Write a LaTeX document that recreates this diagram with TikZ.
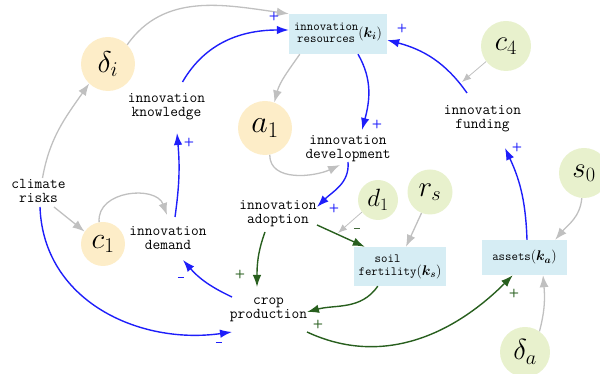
\RequirePackage{fix-cm}
\documentclass[tikz,border=0pt]{standalone}
\usepackage{amsmath}
\usetikzlibrary{arrows.meta,calc}
\definecolor{cblue}{RGB}{30,30,250}
\definecolor{cgreen}{RGB}{40,95,30}
\definecolor{cgray}{RGB}{192,192,192}
\definecolor{fillor}{RGB}{253,237,200}
\definecolor{fillgr}{RGB}{232,241,205}
\definecolor{fillbox}{RGB}{214,237,244}
\newcommand{\negsign}{\rule[0.28em]{6.5pt}{1.3pt}}
\begin{document}
\begin{tikzpicture}[x=1pt,y=1pt,
  lbl/.style={font=\fontsize{15}{14}\selectfont\ttfamily, align=center, inner sep=0pt, text=black},
  orc/.style={circle, fill=fillor, inner sep=0pt, minimum size=#1},
  grc/.style={circle, fill=fillgr, inner sep=0pt, minimum size=#1},
  stockbox/.style={rectangle, fill=fillbox, inner sep=0pt, text=black, font=\fontsize{12.5}{11.5}\selectfont\ttfamily},
  plbl/.style={font=\fontsize{12}{12}\selectfont\sffamily\bfseries, inner sep=0pt},
  blueedge/.style={draw=cblue, line width=1.4pt, -{Latex[length=12pt,width=8.5pt]}},
  greenedge/.style={draw=cgreen, line width=1.4pt, -{Latex[length=12pt,width=8.5pt]}},
  grayedge/.style={draw=cgray, line width=1.3pt, -{Latex[length=12pt,width=9pt]}},
  thingray/.style={draw=cgray, line width=0.8pt, -{Latex[length=9pt,width=7pt]}},
  bigmath/.style={font=\fontsize{#1}{#1}\selectfont}
]
\useasboundingbox (0,0) rectangle (600,374);

% stocks
\node[stockbox, minimum width=98, minimum height=40] (res) at (338,340)
  {\begin{tabular}{@{}c@{}}innovation\\resources\end{tabular}{\fontsize{14}{14}\selectfont$(\boldsymbol{k_i})$}};
\node[stockbox, minimum width=92, minimum height=39] (soil) at (400,107.5)
  {\begin{tabular}[b]{@{}c@{}}soil\\[1.5pt]fertility\end{tabular}{\fontsize{14}{14}\selectfont$(\boldsymbol{k_s})$}};
\node[stockbox, minimum width=85, minimum height=35] (assets) at (524.5,116.5)
  {assets{\fontsize{14}{14}\selectfont$(\boldsymbol{k_a})$}};

% parameters
\node[orc=54, bigmath=30] (di) at (108,310) {$\delta_i$};
\node[orc=54, bigmath=32] (a1) at (265,246) {$a_1$};
\node[orc=44, bigmath=30] (c1) at (103,130) {$c_1$};
\node[grc=50, bigmath=29] (c4) at (506,328) {$c_4$};
\node[grc=50, bigmath=29] (s0) at (584,201) {$s_0$};
\node[grc=40, bigmath=25] (d1) at (378,174) {$d_1$};
\node[grc=45, bigmath=29] (rs) at (430,182) {$r_s$};
\node[grc=50, bigmath=29] (da) at (525,22) {$\delta_a$};

% variables
\node[lbl] (know) at (166.5,267) {innovation\\knowledge};
\node[lbl] (fund) at (482.5,255) {innovation\\funding};
\node[lbl] (dev) at (348,225.5) {innovation\\development};
\node[lbl] (clim) at (38.5,183) {climate\\risks};
\node[lbl] (dem) at (168,135.5) {innovation\\demand};
\node[lbl] (adopt) at (278,160) {innovation\\adoption};
\node[lbl] (crop) at (268.5,64) {crop\\production};
\coordinate (dtip) at (338,141);

% gray links
\draw[grayedge] ($(clim)+(4,13)$) to[out=80,in=235] (di.226);
\draw[grayedge] (di.45) to[out=55,in=172] (res.north west);
\draw[grayedge] ($(res.south west)+(11,0)$) to[out=235,in=75] (a1.70);
\draw[grayedge] (a1.-80) to[out=270,in=205] ($(dev)+(-8,-16.5)$);
\draw[thingray] (c4.218) -- ($(fund)+(-20.5,37)$);
\draw[grayedge] (s0.265) to[out=-95,in=50] ($(assets.north east)+(-12,0)$);
\draw[grayedge] (da.55) to[out=75,in=275] ($(assets.south)+(18.5,0)$);
\draw[grayedge] ($(clim)+(15.5,-16)$) -- (c1.146);
\draw[grayedge] (c1.100) to[out=95,in=110,looseness=1.2] ($(dem)+(-1,23.5)$);
\draw[thingray] (d1.217) -- (dtip);
\draw[grayedge] (rs.248) -- ($(soil.north)+(6,0)$);

% blue links
\draw[blueedge] ($(know)+(16,25)$) to[out=60,in=180] ($(res.west)+(0,4)$);
\draw[blueedge] ($(dem)+(7,21.5)$) to[out=82,in=275] ($(know)+(10.5,-26)$);
\draw[blueedge] ($(res.south)+(20,0)$) to[out=-60,in=75] ($(dev)+(14,18.5)$);
\draw[blueedge] ($(dev)+(0,-13.5)$) to[out=-85,in=45] ($(adopt)+(39,7)$);
\draw[blueedge] ($(fund)+(-15.5,26)$) to[out=125,in=345] ($(res.east)+(0,-6)$);
\draw[blueedge] ($(assets.north)+(2.5,0)$) to[out=92,in=-65] ($(fund)+(22.5,-29)$);
\draw[blueedge] ($(crop)+(-36.5,13)$) to[bend left=12] ($(dem)+(15,-21.5)$);
\draw[blueedge] ($(clim)+(1.5,-16)$) to[out=-88,in=188,looseness=1.05] ($(crop)+(-36.5,-22)$);

% green links
\draw[greenedge] ($(adopt)+(-13,-18)$) to[out=250,in=90] ($(crop)+(-11.5,23)$);
\draw[greenedge] ($(adopt)+(39,-11)$) -- ($(soil.north west)+(11,0)$);
\draw[greenedge] ($(soil.south west)+(24,0)$) to[out=235,in=15] ($(crop)+(38.5,-2)$);
\draw[greenedge] ($(crop)+(38.5,-22)$) to[out=-25,in=225] ($(assets.south west)+(31,0)$);

% polarities
\node[plbl, text=cblue] (p1) at (274,357) {+};
\node[plbl, text=cblue] (p2) at (402,345) {+};
\node[plbl, text=cblue] (p3) at (189,231) {+};
\node[plbl, text=cblue] (p4) at (377,249) {+};
\node[plbl, text=cblue] (p5) at (517,226) {+};
\node[plbl, text=cblue] (p6) at (334,165) {+};
\node[plbl, text=cblue] (m1) at (181,95) {\negsign};
\node[plbl, text=cblue] (m2) at (219,30) {\negsign};
\node[plbl, text=cgreen] (p7) at (240,99) {+};
\node[plbl, text=cgreen!70!gray] (m3) at (357,144) {\negsign};
\node[plbl, text=cgreen] (p8) at (318,49) {+};
\node[plbl, text=cgreen] (p9) at (514,80) {+};
\end{tikzpicture}
\end{document}
